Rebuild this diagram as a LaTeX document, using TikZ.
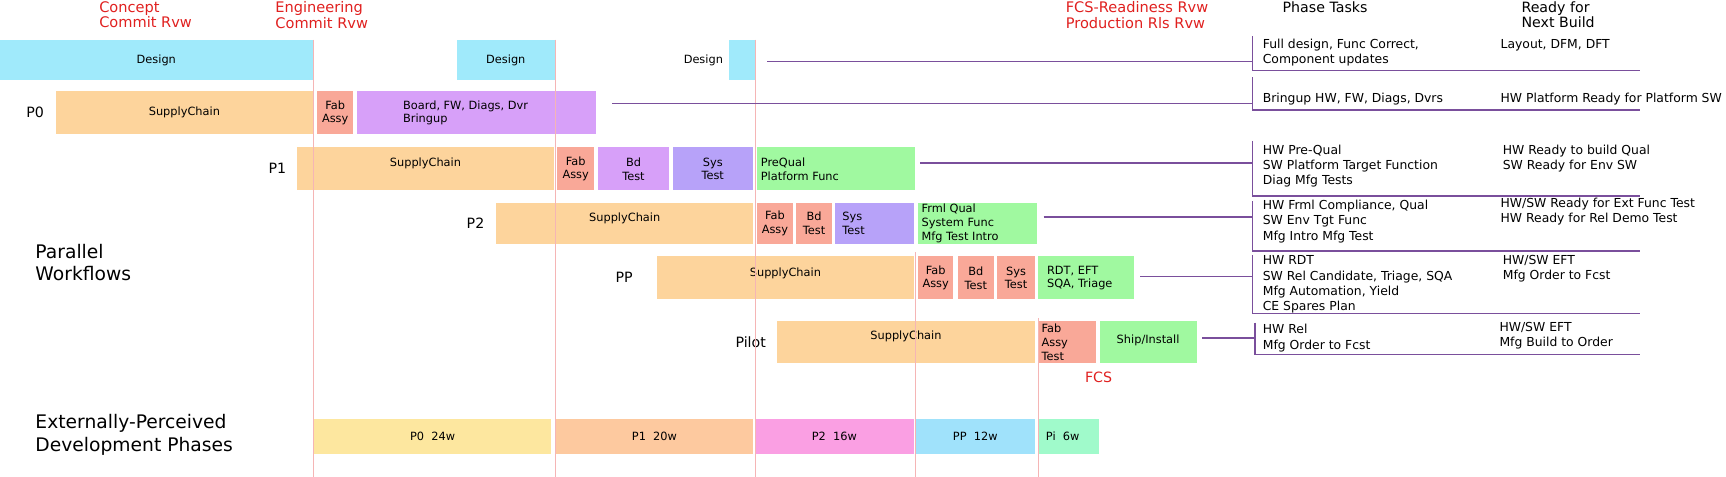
\documentclass[tikz,border=0pt]{standalone}
\usepackage{fontspec}
\setmainfont{DejaVu Sans}
\usepackage{xcolor}
\usepackage{tikz}

\definecolor{dsgn}{HTML}{A0EAFB}
\definecolor{supply}{HTML}{FDD49C}
\definecolor{fab}{HTML}{F9A898}
\definecolor{board}{HTML}{D7A0F9}
\definecolor{systest}{HTML}{B7A2F9}
\definecolor{qual}{HTML}{A0F9A0}
\definecolor{phzero}{HTML}{FDE79F}
\definecolor{phone}{HTML}{FDC99F}
\definecolor{phtwo}{HTML}{FA9FE3}
\definecolor{phpp}{HTML}{A0E2FB}
\definecolor{phpi}{HTML}{A0FACB}
\definecolor{rvw}{HTML}{E0201F}
\definecolor{mile}{HTML}{F5B5B5}
\definecolor{lnk}{HTML}{7A4F9C}

\begin{document}
\begin{tikzpicture}[x=0.03cm, y=-0.03cm,
    boxtext/.style={font=\fontsize{8.8}{10.6}\selectfont, align=center, inner sep=0},
    lefttext/.style={font=\fontsize{8.8}{10.6}\selectfont, align=left, anchor=west, inner sep=0},
    rowlabel/.style={font=\fontsize{11}{13}\selectfont, inner sep=0},
    rvwlabel/.style={font=\fontsize{11.3}{12}\selectfont, text=rvw, align=left, anchor=west, inner sep=0},
    headlabel/.style={font=\fontsize{11}{12}\selectfont, align=left, anchor=west, inner sep=0},
    biglabel/.style={font=\fontsize{14.5}{17.5}\selectfont, align=left, anchor=west, inner sep=0},
    tasktext/.style={font=\fontsize{9.6}{11.9}\selectfont, align=left, anchor=west, inner sep=0},
    milestone/.style={draw=mile, line width=0.8pt},
    connline/.style={draw=lnk, line width=1.1pt}]

        \useasboundingbox (0,0) rectangle (1568,433);

        %Reviews
        \node [rvwlabel] (concept) at (90,13.5) {Concept\\Commit Rvw};
        \node [rvwlabel] (engcommit) at (250,13.5) {Engineering\\Commit Rvw};
        \node [rvwlabel] (fcsrvw) at (968,13.5) {FCS-Readiness Rvw\\Production Rls Rvw};
        \node [headlabel] (tasks) at (1165,7) {Phase Tasks};
        \node [headlabel] (ready) at (1382,13.5) {Ready for\\Next Build};

        %Design
        \fill [dsgn] (0,36) rectangle (284,73);
        \node [boxtext] (des1) at (142,54.5) {Design};
        \fill [dsgn] (415,36) rectangle (504,73);
        \node [boxtext] (des2) at (459.5,54.5) {Design};
        \fill [dsgn] (662,36) rectangle (686,73);
        \node [boxtext, anchor=east] (des3) at (657,54.5) {Design};

        %P0
        \node [rowlabel] (p0) at (32,102) {P0};
        \fill [supply] (51,83) rectangle (284,122);
        \node [boxtext] (p0sc) at (167.5,102.5) {SupplyChain};
        \fill [fab] (288,83) rectangle (321,122);
        \node [boxtext] (p0fab) at (304.5,102.5) {Fab\\Assy};
        \fill [board] (324,83) rectangle (541,122);
        \node [lefttext] (p0bd) at (366,102.5) {Board, FW, Diags, Dvr\\Bringup};

        %P1
        \node [rowlabel] (p1) at (252,153) {P1};
        \fill [supply] (270,134) rectangle (503,173);
        \node [boxtext] (p1sc) at (386.5,148) {SupplyChain};
        \fill [fab] (506,134) rectangle (540,173);
        \node [boxtext] (p1fab) at (523,153.5) {Fab\\Assy};
        \fill [board] (543,134) rectangle (608,173);
        \node [boxtext] (p1bd) at (575.5,153.5) {Bd\\Test};
        \fill [systest] (611,134) rectangle (684,173);
        \node [boxtext] (p1sys) at (647.5,153.5) {Sys\\Test};
        \fill [qual] (688,134) rectangle (831,173);
        \node [lefttext] (p1q) at (691,153.5) {PreQual\\Platform Func};

        %P2
        \node [rowlabel] (p2) at (432,203) {P2};
        \fill [supply] (451,184) rectangle (684,222);
        \node [boxtext] (p2sc) at (567.5,198) {SupplyChain};
        \fill [fab] (688,184) rectangle (720,222);
        \node [boxtext] (p2fab) at (704,203) {Fab\\Assy};
        \fill [fab] (723,184) rectangle (756,222);
        \node [boxtext] (p2bd) at (739.5,203) {Bd\\Test};
        \fill [systest] (759,184) rectangle (830,222);
        \node [lefttext] (p2sys) at (765,203) {Sys\\Test};
        \fill [qual] (834,184) rectangle (942,222);
        \node [lefttext] (p2q) at (837,203) {Frml Qual\\System Func\\Mfg Test Intro};

        %PP
        \node [rowlabel] (pp) at (567,252) {PP};
        \fill [supply] (597,233) rectangle (830,272);
        \node [boxtext] (ppsc) at (713.5,248) {SupplyChain};
        \fill [fab] (834,233) rectangle (866,272);
        \node [boxtext] (ppfab) at (850,252.5) {Fab\\Assy};
        \fill [fab] (870,233) rectangle (903,272);
        \node [boxtext] (ppbd) at (886.5,252.5) {Bd\\Test};
        \fill [fab] (906,233) rectangle (940,272);
        \node [boxtext] (ppsys) at (923,252.5) {Sys\\Test};
        \fill [qual] (943,233) rectangle (1030,272);
        \node [lefttext] (ppq) at (951,252.5) {RDT, EFT\\SQA, Triage};

        %Pilot
        \node [rowlabel] (pilot) at (682,311) {Pilot};
        \fill [supply] (706,292) rectangle (940,330);
        \node [boxtext] (pisc) at (823,306) {SupplyChain};
        \fill [fab] (943,292) rectangle (996,330);
        \node [lefttext] (pifab) at (946,311) {Fab\\Assy\\Test};
        \fill [qual] (999,292) rectangle (1087,330);
        \node [boxtext] (piship) at (1043,309) {Ship/Install};
        \node [font=\fontsize{11}{13}\selectfont, text=rvw, inner sep=0] (fcs) at (998,343) {FCS};

        %Workflows
        \node [biglabel] (parallel) at (32,238.5) {Parallel\\Workflows};
        \node [biglabel] (extphase) at (32,395) {Externally-Perceived\\Development Phases};

        %Phases
        \fill [phzero] (285,381) rectangle (501,412);
        \node [boxtext] (ph0) at (393,396.5) {P0~~24w};
        \fill [phone] (505,381) rectangle (684,412);
        \node [boxtext] (ph1) at (594.5,396.5) {P1~~20w};
        \fill [phtwo] (686,381) rectangle (830,412);
        \node [boxtext] (ph2) at (758,396.5) {P2~~16w};
        \fill [phpp] (832,381) rectangle (940,412);
        \node [boxtext] (phpp) at (886,396.5) {PP~~12w};
        \fill [phpi] (944,381) rectangle (998,412);
        \node [lefttext] (phpi) at (950,396.5) {Pi~~6w};

        %Milestones
        \draw [milestone] (285,36) -- (285,433);
        \draw [milestone] (505,36) -- (505,433);
        \draw [milestone] (686,36) -- (686,433);
        \draw [milestone] (832,229) -- (832,433);
        \draw [milestone] (943,289) -- (943,433);

        %Tasks
        \coordinate (d0) at (697,56);
        \coordinate (d1) at (1138,56);
        \draw [connline] (d0) -- (d1);
        \draw [connline] (1138,33) |- (1490,64);
        \node [tasktext] (tdes) at (1147,48) {Full design, Func Correct,\\Component updates};
        \node [tasktext] (rdes) at (1363,41) {Layout, DFM, DFT};

        \coordinate (e0) at (556,94);
        \coordinate (e1) at (1138,94);
        \draw [connline] (e0) -- (e1);
        \draw [connline] (1138,70) |- (1490,100);
        \node [tasktext] (tp0) at (1147,90) {Bringup HW, FW, Diags, Dvrs};
        \node [tasktext] (rp0) at (1363,90) {HW Platform Ready for Platform SW};

        \coordinate (f0) at (836,148);
        \coordinate (f1) at (1138,148);
        \draw [connline] (f0) -- (f1);
        \draw [connline] (1138,128) |- (1490,178);
        \node [tasktext] (tp1) at (1147,151) {HW Pre-Qual\\SW Platform Target Function\\Diag Mfg Tests};
        \node [tasktext] (rp1) at (1365,144) {HW Ready to build Qual\\SW Ready for Env SW};

        \coordinate (g0) at (948,197);
        \coordinate (g1) at (1138,197);
        \draw [connline] (g0) -- (g1);
        \draw [connline] (1138,183) |- (1490,228);
        \node [tasktext] (tp2) at (1147,201) {HW Frml Compliance, Qual\\SW Env Tgt Func\\Mfg Intro Mfg Test};
        \node [tasktext] (rp2) at (1363,192) {HW/SW Ready for Ext Func Test\\HW Ready for Rel Demo Test};

        \coordinate (h0) at (1036,251);
        \coordinate (h1) at (1138,251);
        \draw [connline] (h0) -- (h1);
        \draw [connline] (1138,232) |- (1490,285);
        \node [tasktext] (tpp) at (1147,258.5) {HW RDT\\SW Rel Candidate, Triage, SQA\\Mfg Automation, Yield\\CE Spares Plan};
        \node [tasktext] (rpp) at (1365,244) {HW/SW EFT\\Mfg Order to Fcst};

        \coordinate (k0) at (1092,307);
        \coordinate (k1) at (1140,307);
        \draw [connline] (k0) -- (k1);
        \draw [connline] (1140,293) |- (1490,322);
        \node [tasktext] (tpi) at (1147,307) {HW Rel\\Mfg Order to Fcst};
        \node [tasktext] (rpi) at (1362,305) {HW/SW EFT\\Mfg Build to Order};
      \end{tikzpicture}
\end{document}
